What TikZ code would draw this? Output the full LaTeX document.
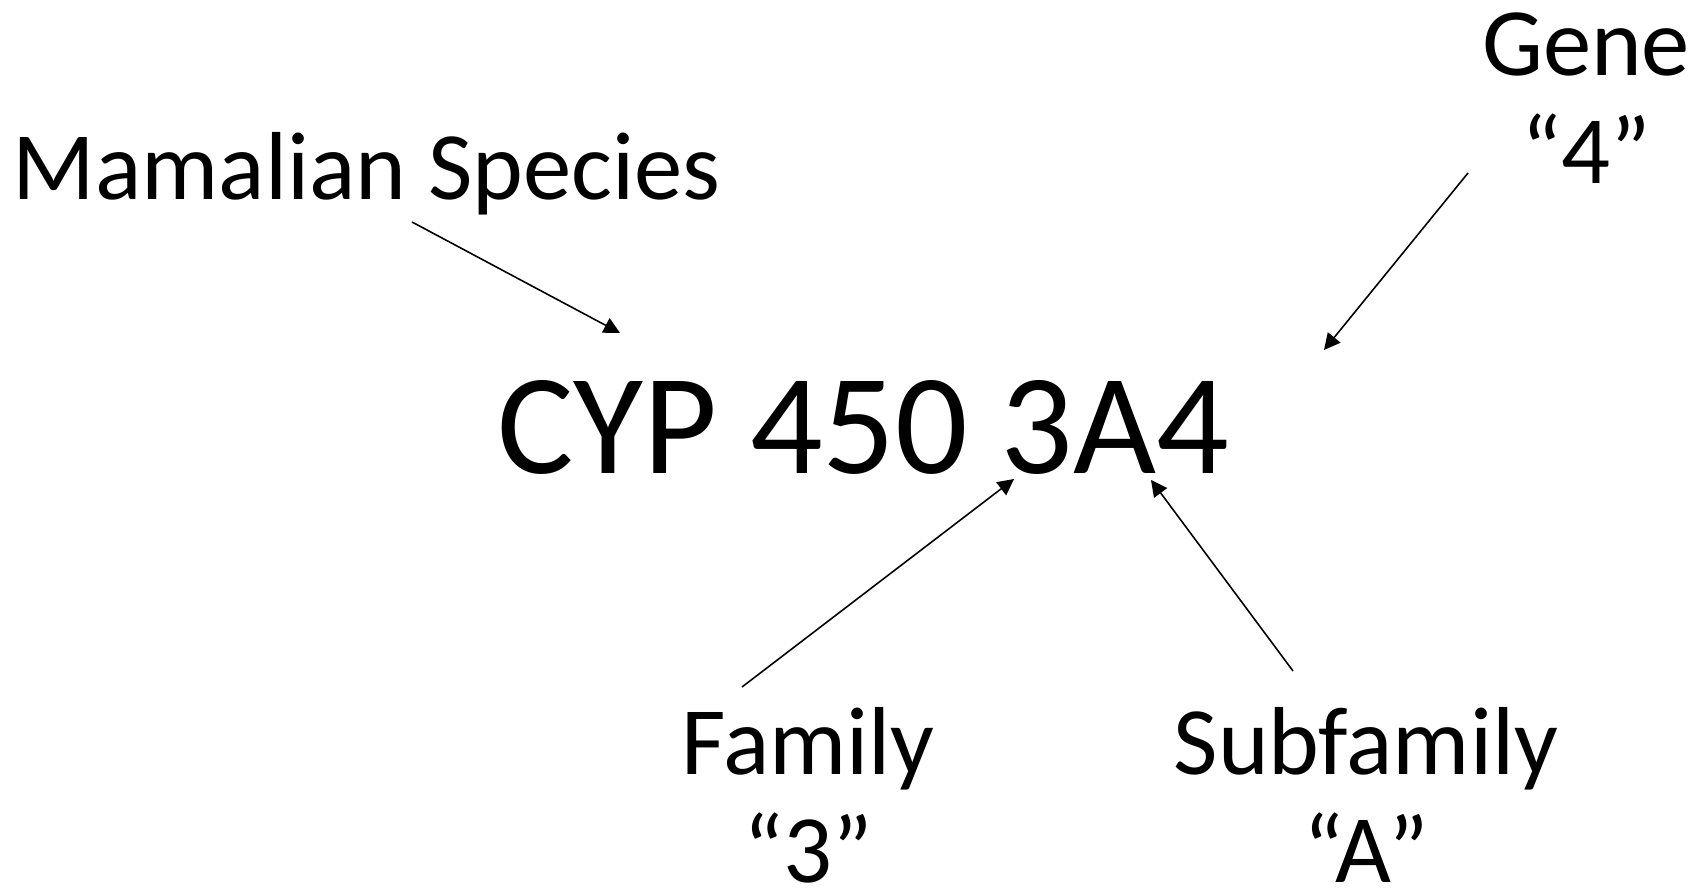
\documentclass[tikz,border=0pt]{standalone}
\usepackage{fontspec}
\setmainfont{Carlito}
\usepackage{tikz}
\usetikzlibrary{arrows.meta}

\begin{document}
\begin{tikzpicture}[
    label/.style={inner sep=0pt,align=center,font=\fontsize{27.5}{31}\selectfont},
    pointer/.style={-{Triangle[length=4.6pt,width=4.6pt]},line width=0.45pt}
  ]
  \useasboundingbox (0,0) rectangle (17,-8.93);
  %\draw[very thin,lightgray] (0,0) grid (17,-8.93);
  \node[inner sep=0pt,anchor=base,font=\fontsize{40.8}{44}\selectfont] (cyp) at (8.63,-4.74) {CYP 450 3A4};
  \node[label,anchor=base west] (species) at (0.12,-2.00) {Mamalian Species};
  \node[label,anchor=base] (gene) at (15.86,-1.84) {Gene\\“4”};
  \node[label,anchor=base] (family) at (8.08,-8.83) {Family\\“3”};
  \node[label,anchor=base] (subfamily) at (13.66,-8.83) {Subfamily\\“A”};
  % arrow ends
  \coordinate (s0) at (4.12,-2.22);  \coordinate (s1) at (6.20,-3.33);
  \coordinate (g0) at (14.68,-1.73); \coordinate (g1) at (13.24,-3.50);
  \coordinate (f0) at (7.42,-6.87);  \coordinate (f1) at (10.14,-4.79);
  \coordinate (u0) at (12.93,-6.71); \coordinate (u1) at (11.51,-4.80);
  \draw[pointer] (s0)--(s1);
  \draw[pointer] (g0)--(g1);
  \draw[pointer] (f0)--(f1);
  \draw[pointer] (u0)--(u1);
\end{tikzpicture}
\end{document}
